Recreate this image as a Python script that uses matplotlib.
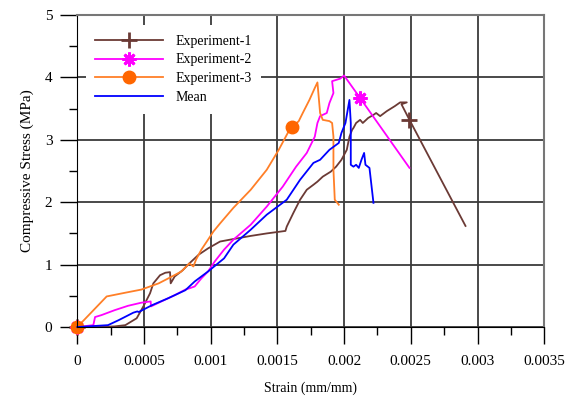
import numpy as np
import matplotlib.pyplot as plt
from matplotlib.ticker import MultipleLocator, FixedFormatter, FixedLocator

# Experiment-1
e1_strain = [0, 0.00015, 0.00028, 0.00036, 0.000445, 0.000495, 0.000545, 0.00057, 0.00062, 0.00066,
             0.000695, 0.0007, 0.00073, 0.00079, 0.00084, 0.00091, 0.00098, 0.00107, 0.00117, 0.0013,
             0.00142, 0.00156, 0.00157, 0.00162, 0.00167, 0.00172, 0.00177, 0.0018, 0.00184, 0.0019,
             0.00194, 0.00198, 0.00202, 0.00204, 0.00206, 0.00207, 0.00209, 0.00212, 0.00214, 0.00218,
             0.00222, 0.00224, 0.00227, 0.00232, 0.00238, 0.00242, 0.00247, 0.00243, 0.00249, 0.00291]
e1_stress = [0, 0.0, 0.01, 0.03, 0.14, 0.33, 0.54, 0.70, 0.83, 0.87,
             0.88, 0.70, 0.81, 0.91, 1.02, 1.16, 1.26, 1.37, 1.41, 1.46,
             1.50, 1.54, 1.61, 1.83, 2.04, 2.20, 2.28, 2.33, 2.41, 2.49,
             2.57, 2.68, 2.84, 3.05, 3.16, 3.19, 3.27, 3.32, 3.27, 3.35,
             3.40, 3.43, 3.38, 3.46, 3.54, 3.60, 3.60, 3.57, 3.32, 1.62]

# Experiment-2
e2_strain = [0, 0.00012, 0.000133, 0.00018, 0.00028, 0.00038, 0.00048, 0.00055, 0.000552, 0.00063,
             0.00073, 0.00081, 0.00084, 0.00088, 0.00093, 0.00098, 0.00103, 0.0011, 0.00117, 0.0013,
             0.00142, 0.00154, 0.00164, 0.00172, 0.00178, 0.0018, 0.00182, 0.00187, 0.00189, 0.00192,
             0.00191, 0.00197, 0.002, 0.00212, 0.00249]
e2_stress = [0, 0.03, 0.16, 0.19, 0.27, 0.34, 0.39, 0.41, 0.33, 0.41,
             0.51, 0.60, 0.62, 0.65, 0.78, 0.89, 1.05, 1.24, 1.40, 1.64,
             1.93, 2.25, 2.57, 2.79, 3.05, 3.27, 3.38, 3.43, 3.59, 3.75,
             3.94, 3.98, 4.03, 3.67, 2.55]

# Experiment-3
e3_strain = [0, 0.00022, 0.00036, 0.00048, 0.00061, 0.00071, 0.00078, 0.00084, 0.00087, 0.00089,
             0.00093, 0.00098, 0.00102, 0.00107, 0.00117, 0.0013, 0.00142, 0.00151, 0.00159, 0.00161,
             0.00166, 0.00169, 0.00174, 0.00178, 0.0018, 0.00182, 0.00184, 0.00189, 0.00191, 0.00192,
             0.00192, 0.00193, 0.00196]
e3_stress = [0, 0.49, 0.55, 0.60, 0.70, 0.81, 0.89, 1.02, 0.97, 1.08,
             1.24, 1.40, 1.53, 1.66, 1.91, 2.20, 2.52, 2.84, 3.16, 3.20,
             3.30, 3.43, 3.64, 3.83, 3.92, 3.43, 3.32, 3.30, 3.27, 3.05,
             2.52, 2.04, 1.96]

# Mean
m_strain = [0, 0.00023, 0.00031, 0.00042, 0.00045, 0.00046, 0.00056, 0.00068, 0.00081, 0.00088,
            0.00098, 0.0011, 0.00117, 0.0013, 0.00142, 0.00157, 0.00167, 0.00177, 0.00182, 0.00189,
            0.00196, 0.00198, 0.00201, 0.00204, 0.00205, 0.00205, 0.00207, 0.00209, 0.00211, 0.00213,
            0.00215, 0.00216, 0.00219, 0.00222]
m_stress = [0, 0.03, 0.11, 0.23, 0.25, 0.24, 0.35, 0.46, 0.59, 0.73,
            0.89, 1.10, 1.32, 1.56, 1.80, 2.04, 2.36, 2.63, 2.68, 2.84,
            2.95, 3.11, 3.27, 3.64, 3.27, 2.60, 2.57, 2.60, 2.55, 2.68,
            2.79, 2.60, 2.55, 1.99]

xticks = [0, 0.0005, 0.001, 0.0015, 0.002, 0.0025, 0.003, 0.0035]
xtick_labels = ['0', '0.0005', '0.001', '0.0015', '0.002', '0.0025', '0.003', '0.0035']

plt.rcParams['font.family'] = 'Liberation Serif'
plt.rcParams['font.size'] = 10

fig = plt.figure(figsize=(5.66, 4.01), dpi=100)
ax = fig.add_axes([0.1366, 0.1845, 0.8249, 0.778])

ax.plot(e1_strain, e1_stress, color='#6b3a35', lw=1.3, marker='+', ms=12, mew=2,
        markevery=[0, len(e1_strain) - 2], label='Experiment-1', clip_on=False)
ax.plot(e2_strain, e2_stress, color='#ff00ff', lw=1.3, marker=(8, 2, 0), ms=10, mew=2,
        markevery=[0, len(e2_strain) - 2], label='Experiment-2', clip_on=False)
ax.plot(e3_strain, e3_stress, color='#ff7f27', lw=1.3, marker='o', ms=9, mfc='#ff6600', mec='#ff6600',
        markevery=[0, 19], label='Experiment-3', clip_on=False)
ax.plot(m_strain, m_stress, color='#0000ff', lw=1.3, label='Mean', clip_on=False)

ax.set_xlim(0, 0.0035)
ax.set_ylim(0, 5)
ax.xaxis.set_major_locator(FixedLocator(xticks))
ax.xaxis.set_major_formatter(FixedFormatter(xtick_labels))
ax.xaxis.set_minor_locator(MultipleLocator(0.00025))
ax.yaxis.set_major_locator(MultipleLocator(1))
ax.yaxis.set_minor_locator(MultipleLocator(0.5))
ax.tick_params(which='major', length=12, width=1, direction='out', labelsize=11)
ax.tick_params(which='minor', length=6, width=1, direction='out')
ax.tick_params(axis='x', which='major', pad=8)
ax.tick_params(axis='y', which='major', pad=6)

ax.grid(True, which='major', color='#3a3a3a', lw=1.3)
ax.set_axisbelow(True)
for side in ['top', 'right']:
    ax.spines[side].set_color('#777777')
    ax.spines[side].set_linewidth(1.5)

ax.set_xlabel('Strain (mm/mm)', labelpad=10)
ax.set_ylabel('Compressive Stress (MPa)', labelpad=8, fontsize=11)

leg = ax.legend(loc='upper left', bbox_to_anchor=(0.0, 0.995), handlelength=4.9, handletextpad=0.85,
                frameon=True, fancybox=False, labelspacing=0.42, borderaxespad=0.6, borderpad=0.7)
leg.get_frame().set_edgecolor('none')
leg.get_frame().set_facecolor('white')
leg.get_frame().set_alpha(1)

fig.savefig('out.png', dpi=100)
